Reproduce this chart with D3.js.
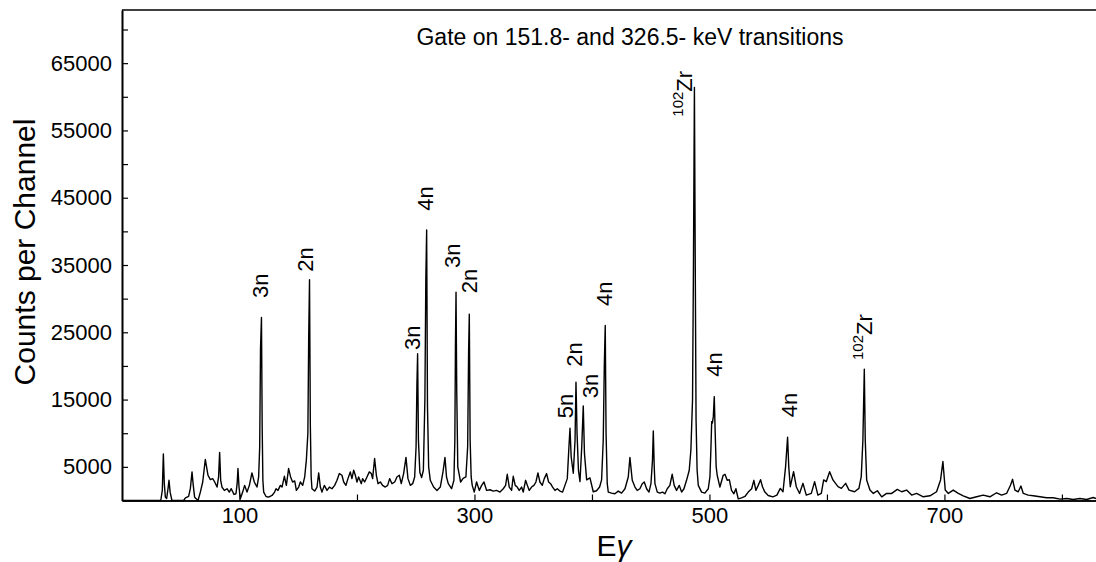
<!DOCTYPE html>
<html>
<head>
<meta charset="utf-8">
<script src="https://cdn.jsdelivr.net/npm/d3@7"></script>
<style>
  html, body { margin: 0; padding: 0; background: #fff; }
  svg { display: block; font-family: "Liberation Sans", Arial, sans-serif; }
</style>
</head>
<body>
<svg id="chart" width="1096" height="562"></svg>
<script>
// Gamma-ray energy (keV) of each spectrum point
const energy = [
  0, 33, 34.3, 35.2, 36, 36.9, 38, 39.2, 40, 41, 42.5, 52.5, 54, 56.7, 58.2, 59.6, 60.5, 61.8, 64.7, 66.7,
  68.7, 70.9, 73.2, 75.2, 77.2, 78.9, 80.9, 82.2, 83.1, 84, 85.1, 87.1, 89.4, 91.3, 93, 95.3, 97, 98, 98.7, 99.6,
  100.7, 102.7, 104.4, 106.4, 108.4, 110.6, 112.6, 114.9, 116.3, 117.2, 117.9, 118.7, 119.3, 119.9, 120.6, 122.6, 124.8, 127.7, 129.9, 131.1,
  132.8, 134.8, 136.2, 138.2, 139.9, 141.8, 143.5, 145.2, 147, 148.4, 150.4, 151.8, 153.8, 155.5, 156.9, 158.2, 158.9, 159.6, 160.3, 161,
  161.7, 164, 166, 167.4, 168.8, 170.2, 172.2, 174.5, 176.5, 178.7, 181, 183, 185, 187.2, 188.7, 190.6, 192.3, 194.3, 195.7, 197.2,
  198.6, 200, 201.4, 203.7, 204.8, 206.5, 208.5, 210.5, 212.2, 213.3, 215, 216.5, 217.9, 219.9, 221.8, 224.1, 226.1, 227.8, 229.8, 232.1,
  234, 236, 237.7, 239.7, 241.7, 243.4, 245.4, 247.4, 249.1, 250.3, 251, 251.6, 252.3, 253.5, 255, 256.5, 257.8, 258.6, 259.3, 260,
  261, 262.4, 265.2, 268.1, 270.9, 273.2, 274.9, 276.2, 277.7, 280.5, 282.5, 283.3, 283.8, 284.3, 284.9, 285.8, 288.2, 290.3, 292.7, 294.2,
  295, 295.6, 296.3, 297.2, 298.1, 299.8, 301.8, 304.1, 306.1, 308.1, 310.3, 313.2, 316, 318.8, 321.7, 324.5, 326.5, 327.9, 329.6, 331.6,
  333, 334.7, 336.4, 338.1, 340.1, 341.5, 343.5, 345, 346.6, 348.6, 350.6, 352.3, 354, 355.7, 357.7, 359.4, 361.4, 363.1, 364.8, 366.5,
  368.5, 370.5, 372.7, 375, 377, 379, 380.4, 381.3, 382.3, 384.1, 385.6, 386.4, 387.3, 388.5, 389.8, 391.3, 392.6, 393.6, 395.5, 398.3,
  401.1, 403.9, 406.5, 408.2, 409.6, 410.5, 411.3, 412, 413, 413.9, 416.7, 419.5, 422.4, 425.2, 428.1, 430.9, 432.3, 434.3, 436.6, 438.5,
  440.8, 442.8, 444.5, 446.5, 448.5, 450.2, 451.5, 452.2, 453, 453.6, 455.6, 457.8, 460.1, 462.1, 464.1, 466.3, 468.3, 470, 472, 474.3,
  476.3, 478.3, 480.5, 482.8, 484.2, 485.6, 486.4, 487.2, 487.9, 488.6, 489.5, 490.5, 493.3, 496.1, 499, 500.4, 501.3, 501.9, 502.5, 503.3,
  504.1, 504.9, 505.7, 506.6, 508.9, 511.7, 513.2, 515.1, 516.9, 518.8, 520.8, 522.5, 524.5, 527.3, 530.2, 533, 535.9, 537.8, 539.5, 541.5,
  543.5, 545.2, 547.2, 550, 554, 557.4, 560.3, 562.6, 564.8, 566.5, 567.5, 568.8, 571.6, 573.9, 576.7, 579.6, 582.4, 586.7, 589.5, 592.3,
  595.2, 597.2, 599.4, 602.3, 605.1, 609.4, 612.3, 615.9, 618.8, 623.5, 627.2, 629.2, 630.6, 631.8, 632.6, 633.8, 636.6, 639.5, 642.9, 646.6,
  650.8, 655.1, 659.9, 663.6, 667.8, 672.1, 676.3, 682, 687.7, 693.3, 696.7, 698.7, 700.7, 703.3, 707.5, 711.8, 716, 721.7, 727.4, 733,
  738.7, 744.4, 748.7, 752.9, 756.3, 758, 760, 762.8, 765.1, 767.1, 771.3, 775.6, 781.3, 787, 792.6, 798.3, 804, 809.6, 815.3, 821,
  826.7, 829
];

// Counts per channel at each energy above
const counts = [
  0, 0, 1500, 6900, 2500, 500, 300, 1800, 3000, 1200, 0, 0, 400, 600, 1800, 4250, 2500, 500, 0, 1250,
  2750, 6100, 3750, 3100, 3250, 2750, 2000, 3500, 7150, 3000, 2000, 1500, 1750, 1250, 1750, 900, 1000, 2500, 4750, 2000,
  250, 1250, 2250, 1250, 2250, 4100, 2750, 2000, 3500, 8000, 22600, 27200, 11200, 3000, 1250, 600, 500, 750, 1250, 1750,
  1500, 2250, 2000, 3600, 2250, 4750, 3500, 2750, 2900, 1500, 2000, 2750, 2250, 3500, 6000, 10000, 24200, 32800, 11200, 3500,
  1750, 1400, 2000, 4100, 2000, 1250, 2250, 1500, 2000, 1750, 2250, 3000, 4000, 3750, 2750, 2250, 3250, 4250, 3250, 4500,
  3750, 2750, 3500, 2500, 3250, 2750, 3500, 4250, 4000, 3250, 6250, 3750, 2500, 2750, 2250, 2000, 2250, 3250, 2500, 2750,
  3500, 3750, 2500, 4000, 6400, 3250, 2250, 2500, 3500, 8000, 17000, 21800, 9000, 4200, 3400, 4500, 15000, 33000, 40200, 14000,
  5000, 3000, 2000, 1500, 2000, 4250, 6400, 3500, 2500, 1750, 3000, 9000, 22900, 30950, 16400, 5000, 2750, 3300, 3500, 8000,
  22000, 27700, 9000, 3500, 2250, 1250, 2750, 1500, 2250, 2750, 1500, 1600, 1400, 1500, 1250, 1750, 2250, 3900, 2000, 1500,
  3600, 2250, 2000, 1500, 2000, 1250, 3000, 2250, 1500, 2000, 2250, 2750, 4100, 2750, 2250, 3250, 4000, 2750, 2500, 2000,
  1500, 1750, 1400, 1250, 2250, 3250, 8000, 10740, 6500, 4050, 9000, 17580, 10000, 4500, 2800, 8000, 14060, 7000, 3060, 3350,
  1300, 1450, 2000, 3060, 9000, 20000, 26000, 10000, 2500, 1250, 1100, 1000, 1400, 1100, 1750, 3500, 6400, 3000, 2000, 1500,
  1750, 2500, 2750, 1750, 1250, 2500, 6000, 10340, 5000, 2500, 1250, 1100, 1250, 1000, 1750, 2250, 3900, 2250, 1500, 2250,
  1250, 1750, 3000, 4500, 7500, 15000, 35500, 61400, 35500, 12000, 4500, 2250, 1250, 1100, 1750, 3500, 8000, 11720, 11500, 12500,
  15440, 10000, 5040, 3750, 2000, 3750, 3900, 3000, 3100, 1500, 1000, 1750, 250, 400, 600, 1250, 1750, 3000, 1500, 2250,
  3100, 2000, 1250, 750, 550, 800, 1800, 1300, 5040, 9400, 5000, 2050, 4280, 2050, 1050, 2550, 800, 1050, 2800, 800,
  1050, 3060, 2800, 4280, 3060, 2050, 1800, 2550, 1550, 1300, 1800, 3550, 9000, 19500, 9000, 3060, 1550, 1050, 1450, 550,
  1050, 1050, 1650, 1300, 1550, 800, 1050, 550, 700, 1300, 3060, 5790, 1550, 1050, 1550, 1050, 700, 300, 550, 800,
  550, 1150, 800, 1050, 2300, 3150, 1550, 1300, 2150, 1050, 800, 700, 550, 400, 400, 200, 300, 150, 300, 150,
  450, 300
];

// Axis ticks
const xMajorTicks = [100, 300, 500, 700];
const xMinorTicks = [200, 400, 600, 800];
const yMajorTicks = [5000, 15000, 25000, 35000, 45000, 55000, 65000];
const yMinorTicks = [10000, 20000, 30000, 40000, 50000, 60000, 70000];

// Peak assignments: text, energy of the label's baseline, counts at the label's start
const peakLabels   = ["3n", "2n", "3n", "4n", "3n", "2n", "5n", "2n", "3n", "4n", "102Zr", "4n", "4n", "102Zr"];
const labelEnergy  = [124.5, 162.8, 253.6, 264.7, 287.7, 301.9, 384.1, 391.2, 405.4, 416.8, 484.8, 510.4, 574.2, 638.2];
const labelCounts  = [30090, 34000, 22360, 43060, 34550, 30790, 12210, 19880, 15190, 28900, 57040, 18400, 12360, 20880];

const title = "Gate on 151.8- and 326.5- keV transitions";

const svg = d3.select("#chart");
const plotLeft = 122, plotRight = 1096, plotTop = 10, plotBottom = 500.5;

const x = d3.scaleLinear().domain([0, 829]).range([plotLeft, plotRight]);
const y = d3.scaleLinear().domain([0, 72900]).range([plotBottom, plotTop]);

// Spectrum trace
const points = energy.map((e, i) => [e, counts[i]]);
svg.append("path")
  .datum(points)
  .attr("fill", "none")
  .attr("stroke", "#000")
  .attr("stroke-width", 1.4)
  .attr("stroke-linejoin", "round")
  .attr("d", d3.line().x(d => x(d[0])).y(d => y(d[1])));

// Axes: ticks point into the plot
function styleAxis(g) {
  g.selectAll("path.domain").attr("stroke", "#000").attr("stroke-width", 1.6);
  g.selectAll(".tick line").attr("stroke", "#000").attr("stroke-width", 1.2);
  g.selectAll(".tick text").attr("fill", "#000").attr("font-size", 22)
    .attr("font-family", "'Liberation Sans', Arial, sans-serif");
}

svg.append("g").attr("transform", `translate(0,${plotBottom})`)
  .call(d3.axisBottom(x).tickValues(xMajorTicks).tickSize(-6).tickSizeOuter(0).tickPadding(7).tickFormat(d3.format("d")))
  .call(styleAxis);
svg.append("g").attr("transform", `translate(0,${plotBottom})`)
  .call(d3.axisBottom(x).tickValues(xMinorTicks).tickSize(-6).tickSizeOuter(0).tickFormat(""))
  .call(styleAxis);

svg.append("g").attr("transform", `translate(${plotLeft},0)`)
  .call(d3.axisLeft(y).tickValues(yMajorTicks).tickSize(-6).tickSizeOuter(0).tickPadding(10).tickFormat(d3.format("d")))
  .call(styleAxis);
svg.append("g").attr("transform", `translate(${plotLeft},0)`)
  .call(d3.axisLeft(y).tickValues(yMinorTicks).tickSize(-6).tickSizeOuter(0).tickFormat(""))
  .call(styleAxis);

// Top frame line
svg.append("line")
  .attr("x1", plotLeft).attr("x2", plotRight).attr("y1", plotTop).attr("y2", plotTop)
  .attr("stroke", "#000").attr("stroke-width", 1.6);

// Title
svg.append("text")
  .attr("x", 630).attr("y", 45)
  .attr("text-anchor", "middle")
  .attr("font-size", 23)
  .text(title);

// Axis titles
svg.append("text")
  .attr("transform", "translate(34.5,252) rotate(-90)")
  .attr("text-anchor", "middle")
  .attr("font-size", 30)
  .text("Counts per Channel");

const xt = svg.append("text")
  .attr("x", 614).attr("y", 556)
  .attr("text-anchor", "middle")
  .attr("font-size", 30);
xt.append("tspan").text("E");
xt.append("tspan").attr("font-style", "italic").text("γ");

// Peak labels, rotated
peakLabels.forEach((lab, i) => {
  const t = svg.append("text")
    .attr("transform", `translate(${x(labelEnergy[i])},${y(labelCounts[i])}) rotate(-90)`)
    .attr("font-size", 22);
  const m = lab.match(/^(\d+)([A-Za-z]+)$/);
  if (m && lab.length > 3) {
    t.append("tspan").attr("font-size", 15).attr("dy", -8.5).text(m[1]);
    t.append("tspan").attr("dy", 8.5).text(m[2]);
  } else {
    t.text(lab);
  }
});
</script>
</body>
</html>
